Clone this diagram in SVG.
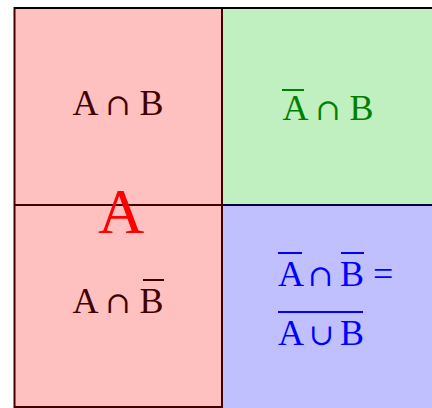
<svg xmlns="http://www.w3.org/2000/svg" width="432" height="408" viewBox="0 0 432 408">
<style>
  text { font-family: "Liberation Serif", "Times New Roman", serif; }
  .lbl { font-size: 36px; }
  .op { font-family: "DejaVu Serif", serif; font-size: 30px; }
  .ov { stroke-width: 2; }
</style>
<rect x="0" y="0" width="432" height="408" fill="#ffffff"/>
<g id="A">
  <rect x="14.5" y="8" width="208" height="420" fill="#ffc0c0" stroke="#400000" stroke-width="2"/>
</g>
<g id="notA_B">
  <rect x="222" y="8" width="230" height="197" fill="#c0f0c0" stroke="#000000" stroke-width="2"/>
</g>
<g id="notA_notB">
  <rect x="222" y="205" width="230" height="220" fill="#c0c0ff" stroke="#000040" stroke-width="2"/>
</g>
<g id="lines">
  <line x1="14" y1="205" x2="222" y2="205" stroke="#400000" stroke-width="2"/>
  <line x1="222" y1="8" x2="222" y2="408" stroke="#400000" stroke-width="2"/>
  <line x1="14" y1="8" x2="432" y2="8" stroke="#000000" stroke-width="2"/>
  <line x1="14" y1="407" x2="222" y2="407" stroke="#400000" stroke-width="2"/>
</g>
<g id="AB">
  <text class="lbl" x="118" y="115" text-anchor="middle" fill="#400000">A <tspan class="op">∩</tspan> B</text>
</g>
<g id="nAB">
  <text class="lbl" x="328" y="120" text-anchor="middle" fill="#008000">A <tspan class="op">∩</tspan> B</text>
  <line class="ov" x1="282" y1="90" x2="304" y2="90" stroke="#008000"/>
</g>
<g id="AnB">
  <text class="lbl" x="118" y="313" text-anchor="middle" fill="#400000">A <tspan class="op">∩</tspan> B</text>
  <line class="ov" x1="143" y1="280" x2="164" y2="280" stroke="#400000"/>
</g>
<g id="nAnB">
  <text class="lbl" x="278" y="286" fill="#0000ff">A<tspan class="op" x="308">∩</tspan><tspan x="340">B</tspan><tspan x="373">=</tspan></text>
  <line class="ov" x1="278" y1="253" x2="302" y2="253" stroke="#0000ff"/>
  <line class="ov" x1="341" y1="253" x2="364" y2="253" stroke="#0000ff"/>
  <text class="lbl" x="278" y="345" fill="#0000ff">A<tspan class="op" x="309">∪</tspan><tspan x="340">B</tspan></text>
  <line class="ov" x1="278" y1="312" x2="363" y2="312" stroke="#0000ff"/>
</g>
<g id="bigA">
  <text x="121" y="233" text-anchor="middle" font-size="64" fill="#ff0000">A</text>
</g>
</svg>
